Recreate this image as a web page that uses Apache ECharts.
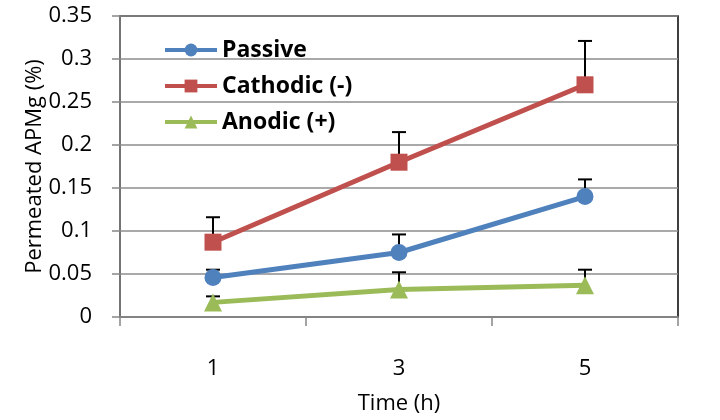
<!DOCTYPE html>
<html><head><meta charset="utf-8">
<script src="https://cdn.jsdelivr.net/npm/echarts@6/dist/echarts.min.js"></script>
<style>html,body{margin:0;padding:0;background:#fff}#c{width:720px;height:420px}</style>
</head><body><div id="c"></div>
<script>
var categories = ['1', '3', '5'];
var passive = [0.046, 0.075, 0.140];
var passiveErr = [0.055, 0.096, 0.160];
var cathodic = [0.087, 0.180, 0.270];
var cathodicErr = [0.116, 0.215, 0.321];
var anodic = [0.017, 0.032, 0.037];
var anodicErr = [0.024, 0.052, 0.055];
var yTicks = [0, 0.05, 0.1, 0.15, 0.2, 0.25, 0.3, 0.35];
var legendNames = ['Passive', 'Cathodic (-)', 'Anodic (+)'];

var FONT = '"Open Sans", "Noto Sans", sans-serif';
var chart = echarts.init(document.getElementById('c'));

function errSeries(vals, errs) {
  var data = vals.map(function (v, i) { return [i, v, errs[i]]; });
  return {
    type: 'custom', z: 1, silent: true,
    data: data,
    renderItem: function (params, api) {
      var lo = api.coord([api.value(0), api.value(1)]);
      var hi = api.coord([api.value(0), api.value(2)]);
      var w = 7;
      return {
        type: 'group',
        children: [
          { type: 'line', shape: { x1: lo[0], y1: lo[1], x2: hi[0], y2: hi[1] }, style: { stroke: '#000', lineWidth: 2 } },
          { type: 'line', shape: { x1: hi[0] - w, y1: hi[1], x2: hi[0] + w, y2: hi[1] }, style: { stroke: '#000', lineWidth: 2 } }
        ]
      };
    }
  };
}

function lineSeries(name, vals, color, symbol, size) {
  return {
    name: name, type: 'line', data: vals, z: 3,
    symbol: symbol, symbolSize: size, showAllSymbol: true,
    lineStyle: { color: color, width: 5 },
    itemStyle: { color: color },
    emphasis: { disabled: true }
  };
}

chart.setOption({
  animation: false,
  grid: { left: 120, right: 42, top: 16, bottom: 101, show: true, borderColor: '#000', borderWidth: 1.5 },
  legend: {
    left: 158, top: 33, orient: 'vertical', itemWidth: 52, itemHeight: 16, itemGap: 12,
    lineStyle: { width: 4 },
    data: legendNames.map(function (n) { return { name: n, lineStyle: { width: 4 } }; }),
    textStyle: { fontFamily: FONT, fontWeight: 'bold', fontSize: 23, color: '#000', lineHeight: 24 }
  },
  xAxis: {
    type: 'category', data: categories, boundaryGap: true,
    name: 'Time (h)', nameLocation: 'middle', nameGap: 76, nameMoveOverlap: false,
    nameTextStyle: { fontFamily: FONT, fontSize: 22, color: '#000' },
    axisLine: { lineStyle: { color: '#868686', width: 1.5 } },
    axisTick: { show: true, length: 9, lineStyle: { color: '#868686', width: 1.5 } },
    axisLabel: { margin: 41, fontFamily: FONT, fontSize: 22, color: '#000' }
  },
  yAxis: {
    type: 'value', min: 0, max: 0.35, interval: 0.05,
    name: 'Permeated APMg (%)', nameLocation: 'middle', nameGap: 74, nameMoveOverlap: false,
    nameTextStyle: { fontFamily: FONT, fontSize: 22, color: '#000' },
    axisLine: { show: true, lineStyle: { color: '#868686', width: 1.5 } },
    axisTick: { show: true, length: 8, lineStyle: { color: '#868686', width: 1.5 } },
    splitLine: { lineStyle: { color: '#8c8c8c', width: 1.5 } },
    axisLabel: {
      margin: 28, fontFamily: FONT, fontSize: 22, color: '#000',
      formatter: function (v) { var t = yTicks.filter(function (x) { return Math.abs(x - v) < 1e-9; }); return t.length ? String(t[0]) : ''; }
    }
  },
  series: [
    errSeries(passive, passiveErr),
    errSeries(cathodic, cathodicErr),
    errSeries(anodic, anodicErr),
    lineSeries('Passive', passive, '#4F81BD', 'circle', 17),
    lineSeries('Cathodic (-)', cathodic, '#C0504D', 'rect', 17),
    lineSeries('Anodic (+)', anodic, '#9BBB59', 'triangle', 18)
  ]
});
</script></body></html>
